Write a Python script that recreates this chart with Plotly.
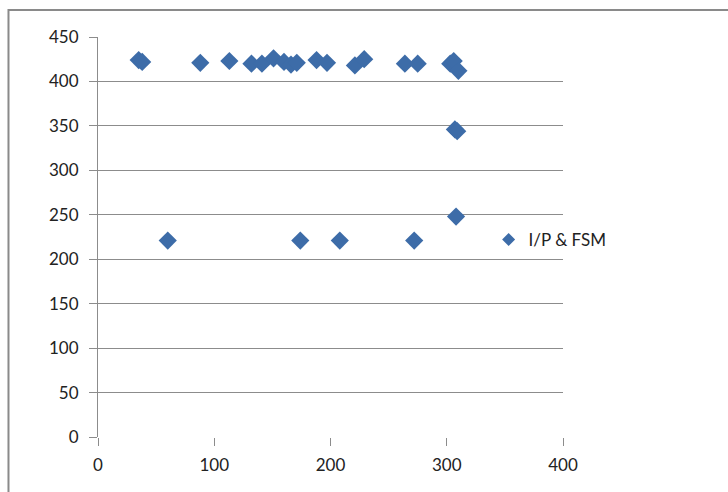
import plotly.graph_objects as go

# I/P & FSM measurements
x_vals = [35, 38, 60, 88, 113, 132, 141, 151, 160, 166, 171, 188, 197, 221, 229,
          264, 275, 303, 306, 310, 174, 208, 272, 308, 307, 309]
y_vals = [424, 422, 221, 421, 423, 420, 420, 426, 422, 419, 421, 424, 421, 418, 425,
          420, 420, 420, 423, 412, 221, 221, 221, 248, 346, 344]

series_name = "I/P & FSM"
x_ticks = [0, 100, 200, 300, 400]
y_ticks = [0, 50, 100, 150, 200, 250, 300, 350, 400, 450]

grid = "#8c8c8c"
marker_blue = "#3d6ca8"

fig = go.Figure()
fig.add_trace(go.Scatter(
    x=x_vals, y=y_vals, mode="markers", name=series_name, showlegend=False,
    marker=dict(symbol="diamond", size=14, color=marker_blue, line=dict(width=0)),
))
# legend entry with a smaller key symbol
fig.add_trace(go.Scatter(
    x=[None], y=[None], mode="markers", name=series_name,
    marker=dict(symbol="diamond", size=10, color=marker_blue, line=dict(width=0)),
))

fig.update_layout(
    width=728, height=492,
    margin=dict(l=98, r=165, t=37, b=55),
    paper_bgcolor="white", plot_bgcolor="white",
    font=dict(family="Lato, Open Sans, sans-serif", size=17, color="#222222"),
    showlegend=True,
    legend=dict(x=0.84, y=0.4925, xanchor="left", yanchor="middle",
                font=dict(size=17, color="#222222"),
                bgcolor="rgba(0,0,0,0)", itemwidth=30),
    xaxis=dict(range=[0, 400], tickvals=x_ticks, showgrid=False,
               zeroline=False, showline=False, ticks="outside", ticklen=8,
               tickcolor=grid, tickwidth=1, ticklabelstandoff=5),
    yaxis=dict(range=[0, 450], tickvals=y_ticks, showgrid=True, gridcolor=grid,
               gridwidth=1, zeroline=False, showline=True, linecolor=grid,
               linewidth=1, ticks="outside", ticklen=8, tickcolor=grid,
               ticklabelstandoff=7),
    shapes=[
        # outer chart border
        dict(type="rect", xref="paper", yref="paper",
             x0=-0.1925, x1=1.5, y0=-0.3, y1=1.0675,
             line=dict(color="#8a8a8a", width=2), fillcolor="rgba(0,0,0,0)",
             layer="below"),
    ],
)

fig.write_html("out.html")
